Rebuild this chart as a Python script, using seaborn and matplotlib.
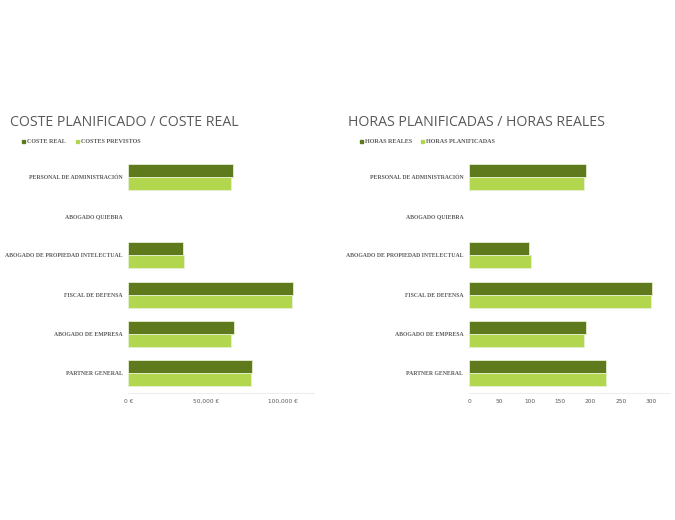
import matplotlib
matplotlib.use("Agg")
import matplotlib.pyplot as plt
import seaborn as sns
import pandas as pd
from matplotlib.ticker import FuncFormatter
from matplotlib.patches import Rectangle

categories = ["PERSONAL DE ADMINISTRACIÓN", "ABOGADO QUIEBRA", "ABOGADO DE PROPIEDAD INTELECTUAL",
              "FISCAL DE DEFENSA", "ABOGADO DE EMPRESA", "PARTNER GENERAL"]
coste_real = [67400, 0, 35000, 106200, 68000, 79700]
costes_previstos = [66300, 0, 35900, 105600, 66500, 79300]
horas_reales = [192, 0, 99, 302, 193, 226]
horas_planificadas = [189, 0, 102, 300, 189, 225]

DARK = "#5E7A1D"
LIGHT = "#B2D74E"
GRAY = "#595959"

sns.set_theme(style="white")
plt.rcParams["font.family"] = ["DejaVu Sans"]

fig = plt.figure(figsize=(6.75, 5.2), dpi=100)
W, H = 675, 520

def make_ax(x0, x1, y0, y1):
    return fig.add_axes([x0 / W, (H - y1) / H, (x1 - x0) / W, (y1 - y0) / H])

def draw(ax, s1name, s1, s2name, s2, xmax, fmt, ticks):
    df = pd.DataFrame({
        "cat": categories * 2,
        "val": list(s1) + list(s2),
        "serie": [s1name] * len(categories) + [s2name] * len(categories),
    })
    sns.barplot(data=df, y="cat", x="val", hue="serie", hue_order=[s1name, s2name],
                palette=[DARK, LIGHT], orient="h", width=0.66, ax=ax,
                edgecolor="#E6EFD2", linewidth=0.6, legend=False, saturation=1)
    for p in ax.patches:
        if p.get_width() == 0:
            p.set_visible(False)
    ax.set_xlim(0, xmax)
    ax.set_xticks(ticks)
    ax.xaxis.set_major_formatter(FuncFormatter(fmt))
    ax.set_xlabel("")
    ax.set_ylabel("")
    for s in ["top", "right", "left"]:
        ax.spines[s].set_visible(False)
    ax.spines["bottom"].set_color("#EEEEEE")
    ax.spines["bottom"].set_linewidth(0.8)
    ax.tick_params(axis="y", length=0, pad=4.2)
    ax.tick_params(axis="x", length=0, pad=4.0)
    for lab in ax.get_yticklabels():
        lab.set_fontfamily("Liberation Serif")
        lab.set_fontweight("bold")
        lab.set_fontsize(4.15)
        lab.set_color(GRAY)
    for lab in ax.get_xticklabels():
        lab.set_fontfamily("DejaVu Sans")
        lab.set_fontsize(4.2)
        lab.set_color(GRAY)

ax1 = make_ax(128.3, 314.3, 157, 393)
draw(ax1, "COSTE REAL", coste_real, "COSTES PREVISTOS", costes_previstos, 120000,
     lambda v, p: f"{int(v):,} €", [0, 50000, 100000])

ax2 = make_ax(469, 670, 157, 393)
draw(ax2, "HORAS REALES", horas_reales, "HORAS PLANIFICADAS", horas_planificadas, 331,
     lambda v, p: f"{int(v)}", [0, 50, 100, 150, 200, 250, 300])

def header(x, title, n1, n2, lx2):
    fig.text(x / W, (H - 123) / H, title, fontsize=10.2, color=GRAY, family="Open Sans",
             va="center", ha="left")
    for lx, name, c in [(x + 12, n1, DARK), (lx2, n2, LIGHT)]:
        fig.patches.append(Rectangle(((lx) / W, (H - 143) / H), 3 / W, 3 / H,
                                     transform=fig.transFigure, color=c, figure=fig))
        fig.text((lx + 5) / W, (H - 141.5) / H, name, fontsize=4.4, color=GRAY,
                 family="Liberation Serif", fontweight="bold", va="center", ha="left")

header(10, "COSTE PLANIFICADO / COSTE REAL", "COSTE REAL", "COSTES PREVISTOS", 76)
header(348, "HORAS PLANIFICADAS / HORAS REALES", "HORAS REALES", "HORAS PLANIFICADAS", 421)

fig.savefig("out.png", dpi=100, facecolor="white")
